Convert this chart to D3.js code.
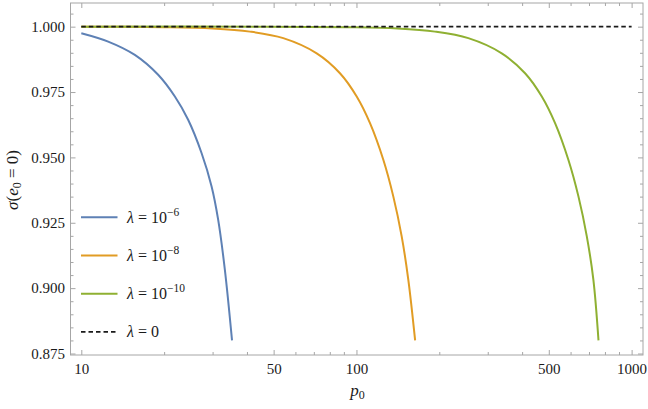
<!DOCTYPE html>
<html>
<head>
<meta charset="utf-8">
<script src="https://cdn.jsdelivr.net/npm/d3@7"></script>
<style>
  body { margin: 0; background: #fff; }
  svg text { font-family: "Liberation Serif", "Times New Roman", serif; }
</style>
</head>
<body>
<svg id="chart"></svg>
<script>
// values
var pBlue = [10, 12.52, 15.65, 19.02, 21.88, 24.45, 27.35, 29.75, 31.43, 33.24, 35.3];
var sBlue = [0.9975, 0.9943, 0.9892, 0.9816, 0.9733, 0.9644, 0.9517, 0.9389, 0.9262, 0.9071, 0.8800];

var pOrange = [10, 20, 30, 41.0, 54.2, 71.7, 87.1, 100.2, 112.0, 125.2, 136.1, 146.0, 154.3, 163.4];
var sOrange = [1.0, 0.9998, 0.9993, 0.9981, 0.9956, 0.9898, 0.9822, 0.9733, 0.9631, 0.9491, 0.9351, 0.9198, 0.9033, 0.8800];

var pGreen = [10, 47, 94, 141, 193.0, 255.0, 337.3, 410.0, 471.6, 527.0, 589.0, 640.8, 687.3, 726.1, 758];
var sGreen = [1.0, 1.0, 0.9998, 0.9993, 0.9981, 0.9956, 0.9898, 0.9822, 0.9733, 0.9631, 0.9491, 0.9351, 0.9198, 0.9033, 0.8800];

var pZero = [10, 1000];
var sZero = [1, 1];

var xMajor = [10, 50, 100, 500, 1000];
var xMinor = [20, 30, 40, 60, 70, 80, 90, 200, 300, 400, 600, 700, 800, 900];
var yMajor = [0.875, 0.900, 0.925, 0.950, 0.975, 1.000];

var legendExp = ["6", "8", "10"];

var margin = {top: 3, right: 5, bottom: 54, left: 70.5},
    width = 648 - margin.left - margin.right,
    height = 409 - margin.top - margin.bottom;

var x = d3.scaleLog().domain([9.135, 1100]).range([0, width]);
var y = d3.scaleLinear().domain([0.87443, 1.00905]).range([height, 0]);

var frameColor = "#a6a6a6";
var serif = "'Liberation Serif', 'Times New Roman', serif";

var svg = d3.select("#chart")
    .attr("width", 648)
    .attr("height", 409)
  .append("g")
    .attr("transform", "translate(" + margin.left + "," + margin.top + ")");

// y minor ticks every 0.005
var yMinor = d3.range(0, 27).map(function(i) { return +(0.875 + i * 0.005).toFixed(3); })
    .filter(function(v) { return yMajor.indexOf(v) < 0; });

function styleAxis(g) {
  g.attr("font-family", serif).attr("font-size", 15);
  g.select(".domain").remove();
  g.selectAll("line").attr("stroke", frameColor);
  g.selectAll("text").attr("fill", "#1a1a1a");
}

// bottom
svg.append("g")
    .attr("transform", "translate(0," + height + ")")
    .call(d3.axisBottom(x).tickValues(xMajor).tickSize(-5).tickPadding(8).tickFormat(d3.format("d")))
    .call(styleAxis);
svg.append("g")
    .attr("transform", "translate(0," + height + ")")
    .call(d3.axisBottom(x).tickValues(xMinor).tickSize(-3).tickFormat(""))
    .call(styleAxis);
// top
svg.append("g")
    .call(d3.axisTop(x).tickValues(xMajor).tickSize(-5).tickFormat(""))
    .call(styleAxis);
svg.append("g")
    .call(d3.axisTop(x).tickValues(xMinor).tickSize(-3).tickFormat(""))
    .call(styleAxis);
// left
svg.append("g")
    .call(d3.axisLeft(y).tickValues(yMajor).tickSize(-5).tickPadding(5.5).tickFormat(d3.format(".3f")))
    .call(styleAxis);
svg.append("g")
    .call(d3.axisLeft(y).tickValues(yMinor).tickSize(-3).tickFormat(""))
    .call(styleAxis);
// right
svg.append("g")
    .attr("transform", "translate(" + width + ",0)")
    .call(d3.axisRight(y).tickValues(yMajor).tickSize(-5).tickFormat(""))
    .call(styleAxis);
svg.append("g")
    .attr("transform", "translate(" + width + ",0)")
    .call(d3.axisRight(y).tickValues(yMinor).tickSize(-3).tickFormat(""))
    .call(styleAxis);

// frame
svg.append("rect")
    .attr("width", width)
    .attr("height", height)
    .attr("fill", "none")
    .attr("stroke", frameColor)
    .attr("stroke-width", 1);

var series = [
  {p: pBlue, s: sBlue, color: "#5e81b5", dash: null},
  {p: pOrange, s: sOrange, color: "#e19c24", dash: null},
  {p: pGreen, s: sGreen, color: "#8fb032", dash: null},
  {p: pZero, s: sZero, color: "#1a1a1a", dash: "4.5,3"}
];

var line = d3.line()
    .x(function(d) { return x(d[0]); })
    .y(function(d) { return y(d[1]); })
    .curve(d3.curveCatmullRom.alpha(0.5));

// dashed one last so it sits on top
series.forEach(function(sr) {
  svg.append("path")
      .datum(sr.p.map(function(v, i) { return [v, sr.s[i]]; }))
      .attr("fill", "none")
      .attr("stroke", sr.color)
      .attr("stroke-width", sr.dash ? 1.8 : 2)
      .attr("stroke-dasharray", sr.dash)
      .attr("d", line);
});

// legend
var leg = svg.append("g").attr("transform", "translate(" + (81 - margin.left) + "," + (217.3 - margin.top) + ")");
series.forEach(function(sr, i) {
  var g = leg.append("g").attr("transform", "translate(0," + (i * 38.2) + ")");
  g.append("line")
      .attr("x1", 0).attr("x2", 36.5)
      .attr("stroke", sr.color)
      .attr("stroke-width", sr.dash ? 1.8 : 2)
      .attr("stroke-dasharray", sr.dash);
  var t = g.append("text")
      .attr("x", 46)
      .attr("y", 5.5)
      .attr("fill", "#1a1a1a")
      .style("font-size", "16px");
  t.append("tspan").style("font-style", "italic").text("λ");
  if (i < 3) {
    t.append("tspan").text(" = 10");
    t.append("tspan").attr("dy", -7).style("font-size", "11.5px").text("−" + legendExp[i]);
  } else {
    t.append("tspan").text(" = 0");
  }
});

// axis labels
var xl = svg.append("text")
    .attr("x", x(100) + 1)
    .attr("y", height + 41)
    .attr("text-anchor", "middle")
    .attr("fill", "#1a1a1a")
    .style("font-size", "17px");
xl.append("tspan").style("font-style", "italic").text("p");
xl.append("tspan").attr("dy", 3).style("font-size", "12px").text("0");

var yl = svg.append("text")
    .attr("transform", "translate(" + (18 - margin.left) + "," + (180 - margin.top) + ") rotate(-90)")
    .attr("text-anchor", "middle")
    .attr("fill", "#1a1a1a")
    .style("font-size", "17px");
yl.append("tspan").style("font-style", "italic").text("σ");
yl.append("tspan").text("(");
yl.append("tspan").style("font-style", "italic").text("e");
yl.append("tspan").attr("dy", 3).style("font-size", "12px").text("0");
yl.append("tspan").attr("dy", -3).text(" = 0)");
</script>
</body>
</html>
